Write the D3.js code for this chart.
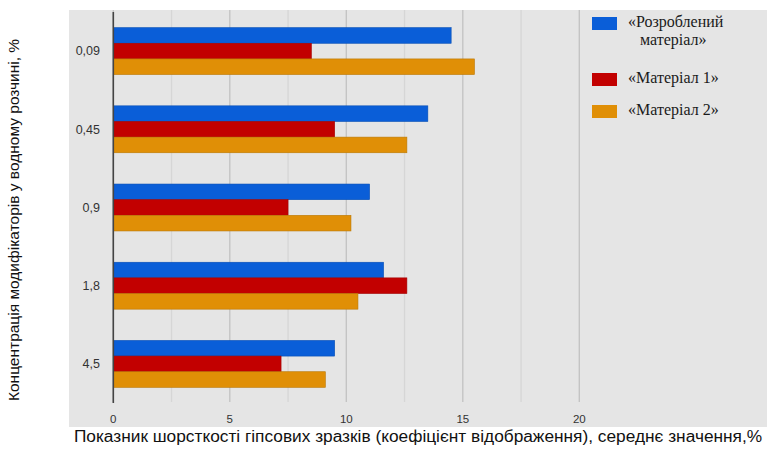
<!DOCTYPE html>
<html lang="uk">
<head>
<meta charset="UTF-8">
<script src="https://d3js.org/d3.v7.min.js"></script>
<title>Шорсткість гіпсових зразків</title>
<style>
  body { margin: 0; background: #fff; }
  svg { display: block; }
  .tick-y, .tick-x { font-family: "Liberation Sans", Arial, sans-serif; fill: #333; }
  .legend text { font-family: "Liberation Serif", "DejaVu Serif", serif; fill: #1a1a1a; }
  .title { font-family: "Liberation Sans", Arial, sans-serif; fill: #111; }
</style>
</head>
<body>
<svg width="775" height="451"></svg>
<script>
  // дані з діаграми
  const categories = ["0,09", "0,45", "0,9", "1,8", "4,5"]
  const seriesNames = ["«Розроблений матеріал»", "«Матеріал 1»", "«Матеріал 2»"]
  const developed = [14.5, 13.5, 11.0, 11.6, 9.5]
  const material1 = [8.5, 9.5, 7.5, 12.6, 7.2]
  const material2 = [15.5, 12.6, 10.2, 10.5, 9.1]
  const xTicks = [0, 5, 10, 15, 20]
  const colors = ["#0a5ed8", "#c20000", "#e08f06"]

  const series = [developed, material1, material2]

  const svg = d3.select("svg")

  // сірий фон панелі
  svg.append("rect")
    .attr("x", 69).attr("y", 10)
    .attr("width", 698).attr("height", 417)
    .attr("fill", "#e5e5e5")

  const x = d3.scaleLinear().domain([0, 20]).range([113.3, 579.3])
  const y = d3.scaleBand().domain(categories).range([12, 403]).paddingInner(0.4).paddingOuter(0.2)
  const yInner = d3.scaleBand().domain(d3.range(series.length)).range([0, y.bandwidth()])

  // сітка
  const grid = d3.range(0, 20.01, 2.5)
  svg.append("g").selectAll("line")
    .data(grid)
    .enter()
    .append("line")
    .attr("x1", d => x(d)).attr("x2", d => x(d))
    .attr("y1", 10).attr("y2", 402)
    .attr("stroke", d => d % 5 === 0 ? "#c2c2c2" : "#d6d6d6")
    .attr("stroke-width", 1.3)

  // стовпчики
  categories.forEach((c, i) => {
    series.forEach((s, j) => {
      svg.append("rect")
        .attr("x", x(0))
        .attr("y", y(c) + yInner(j))
        .attr("width", x(s[i]) - x(0))
        .attr("height", yInner.bandwidth())
        .attr("fill", colors[j])
        .attr("stroke", d3.color(colors[j]).darker(0.5))
        .attr("stroke-width", 0.6)
    })
  })

  // вісь
  svg.append("line")
    .attr("x1", x(0)).attr("x2", x(0))
    .attr("y1", 12).attr("y2", 403)
    .attr("stroke", "#444").attr("stroke-width", 1.6)

  svg.append("g").selectAll("text")
    .data(categories)
    .enter()
    .append("text")
    .attr("class", "tick-y")
    .attr("x", 100)
    .attr("y", d => y(d) + y.bandwidth() / 2)
    .attr("dy", "0.35em")
    .attr("text-anchor", "end")
    .attr("font-size", 12.5)
    .text(d => d)

  svg.append("g").selectAll("text")
    .data(xTicks)
    .enter()
    .append("text")
    .attr("class", "tick-x")
    .attr("x", d => x(d))
    .attr("y", 423)
    .attr("text-anchor", "middle")
    .attr("font-size", 11.5)
    .text(d => d)

  // легенда
  const legend = svg.append("g").attr("class", "legend")
  const legendY = [17, 73, 105]
  const labelLines = [["«Розроблений", " матеріал»"], ["«Матеріал 1»"], ["«Матеріал 2»"]]
  legendY.forEach((ly, j) => {
    legend.append("rect")
      .attr("x", 592).attr("y", ly)
      .attr("width", 25).attr("height", 13)
      .attr("fill", colors[j])
    const t = legend.append("text")
      .attr("x", 628).attr("y", ly + 10)
      .attr("font-size", 16)
    labelLines[j].forEach((ln, k) => {
      t.append("tspan")
        .attr("x", k === 0 ? 628 : 636)
        .attr("dy", k === 0 ? 0 : 18)
        .text(ln)
    })
  })

  // підписи осей
  svg.append("text")
    .attr("class", "title")
    .attr("x", 418).attr("y", 442)
    .attr("text-anchor", "middle")
    .attr("font-size", 17.3)
    .text("Показник шорсткості гіпсових зразків (коефіцієнт відображення), середнє значення,%")

  svg.append("text")
    .attr("class", "title")
    .attr("transform", "translate(19,220) rotate(-90)")
    .attr("text-anchor", "middle")
    .attr("font-size", 15.5)
    .text("Концентрація модифікаторів у водному розчині, %")
</script>
</body>
</html>
